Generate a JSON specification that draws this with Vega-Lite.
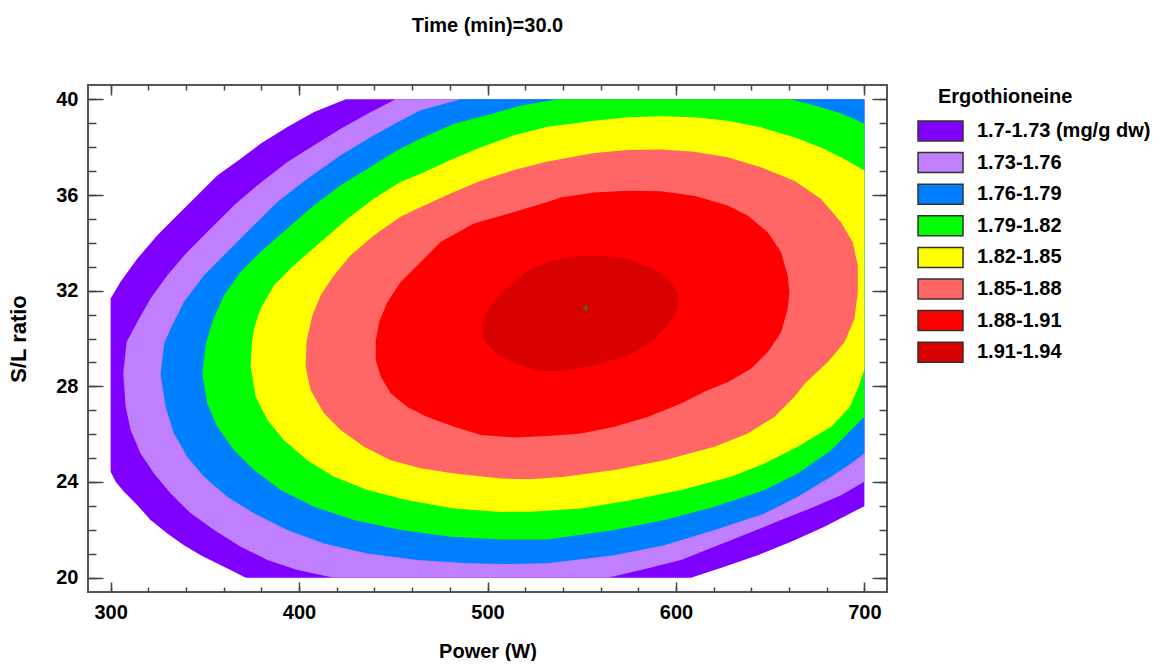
{
  "$schema": "https://vega.github.io/schema/vega-lite/v6.json",
  "width": 799,
  "height": 507,
  "padding": {"left": 7, "top": 16, "right": 0, "bottom": 0},
  "background": "white",
  "title": {"text": "Time (min)=30.0", "fontSize": 20, "fontWeight": "bold", "font": "Liberation Sans", "color": "#000000", "anchor": "middle", "frame": "group", "offset": 48},
  "config": {
    "font": "Liberation Sans",
    "view": {"stroke": "#555555", "strokeWidth": 2},
    "axis": {"grid": false, "domain": false, "labelFont": "Liberation Sans", "labelFontWeight": "bold", "labelFontSize": 20, "labelColor": "#000000", "titleFont": "Liberation Sans", "titleFontSize": 20, "titleFontWeight": "bold", "titleColor": "#000000", "tickColor": "#444444", "tickWidth": 1.5, "labelFlush": false, "labelOverlap": false}
  },
  "datasets": {
    "contours": [
      {"band":"1.7-1.73 (mg/g dw)","i":0,"x":424.8,"y":40},{"band":"1.7-1.73 (mg/g dw)","i":1,"x":700,"y":40},{"band":"1.7-1.73 (mg/g dw)","i":2,"x":700,"y":22.99},{"band":"1.7-1.73 (mg/g dw)","i":3,"x":678.8,"y":22.13},{"band":"1.7-1.73 (mg/g dw)","i":4,"x":661.1,"y":21.50},{"band":"1.7-1.73 (mg/g dw)","i":5,"x":643.4,"y":20.94},{"band":"1.7-1.73 (mg/g dw)","i":6,"x":625.7,"y":20.46},{"band":"1.7-1.73 (mg/g dw)","i":7,"x":608.0,"y":20},{"band":"1.7-1.73 (mg/g dw)","i":8,"x":371.7,"y":20},{"band":"1.7-1.73 (mg/g dw)","i":9,"x":365.5,"y":20.25},{"band":"1.7-1.73 (mg/g dw)","i":10,"x":356.6,"y":20.59},{"band":"1.7-1.73 (mg/g dw)","i":11,"x":347.8,"y":20.94},{"band":"1.7-1.73 (mg/g dw)","i":12,"x":338.9,"y":21.36},{"band":"1.7-1.73 (mg/g dw)","i":13,"x":330.1,"y":21.85},{"band":"1.7-1.73 (mg/g dw)","i":14,"x":321.2,"y":22.41},{"band":"1.7-1.73 (mg/g dw)","i":15,"x":314.2,"y":23.03},{"band":"1.7-1.73 (mg/g dw)","i":16,"x":307.1,"y":23.59},{"band":"1.7-1.73 (mg/g dw)","i":17,"x":302.7,"y":24.01},{"band":"1.7-1.73 (mg/g dw)","i":18,"x":300,"y":24.43},{"band":"1.7-1.73 (mg/g dw)","i":19,"x":300,"y":31.67},{"band":"1.7-1.73 (mg/g dw)","i":20,"x":305.3,"y":32.37},{"band":"1.7-1.73 (mg/g dw)","i":21,"x":314.2,"y":33.34},{"band":"1.7-1.73 (mg/g dw)","i":22,"x":324.8,"y":34.32},{"band":"1.7-1.73 (mg/g dw)","i":23,"x":335.4,"y":35.15},{"band":"1.7-1.73 (mg/g dw)","i":24,"x":347.8,"y":36.13},{"band":"1.7-1.73 (mg/g dw)","i":25,"x":356.6,"y":36.82},{"band":"1.7-1.73 (mg/g dw)","i":26,"x":369.0,"y":37.52},{"band":"1.7-1.73 (mg/g dw)","i":27,"x":379.7,"y":38.15},{"band":"1.7-1.73 (mg/g dw)","i":28,"x":393.8,"y":38.84},{"band":"1.7-1.73 (mg/g dw)","i":29,"x":408.0,"y":39.47},
      {"band":"1.73-1.76","i":0,"x":451.3,"y":40},{"band":"1.73-1.76","i":1,"x":700,"y":40},{"band":"1.73-1.76","i":2,"x":700,"y":24.01},{"band":"1.73-1.76","i":3,"x":687.6,"y":23.45},{"band":"1.73-1.76","i":4,"x":673.4,"y":22.96},{"band":"1.73-1.76","i":5,"x":655.8,"y":22.41},{"band":"1.73-1.76","i":6,"x":638.1,"y":21.85},{"band":"1.73-1.76","i":7,"x":620.4,"y":21.29},{"band":"1.73-1.76","i":8,"x":602.7,"y":20.74},{"band":"1.73-1.76","i":9,"x":581.4,"y":20.32},{"band":"1.73-1.76","i":10,"x":563.7,"y":20},{"band":"1.73-1.76","i":11,"x":418.6,"y":20},{"band":"1.73-1.76","i":12,"x":399.1,"y":20.32},{"band":"1.73-1.76","i":13,"x":383.2,"y":20.74},{"band":"1.73-1.76","i":14,"x":369.0,"y":21.29},{"band":"1.73-1.76","i":15,"x":354.9,"y":21.99},{"band":"1.73-1.76","i":16,"x":342.5,"y":22.69},{"band":"1.73-1.76","i":17,"x":331.9,"y":23.52},{"band":"1.73-1.76","i":18,"x":323.0,"y":24.36},{"band":"1.73-1.76","i":19,"x":315.9,"y":25.19},{"band":"1.73-1.76","i":20,"x":310.6,"y":26.17},{"band":"1.73-1.76","i":21,"x":308.0,"y":27.14},{"band":"1.73-1.76","i":22,"x":306.7,"y":28.54},{"band":"1.73-1.76","i":23,"x":308.5,"y":29.85},{"band":"1.73-1.76","i":24,"x":314.2,"y":30.70},{"band":"1.73-1.76","i":25,"x":321.2,"y":31.67},{"band":"1.73-1.76","i":26,"x":330.1,"y":32.64},{"band":"1.73-1.76","i":27,"x":340.7,"y":33.62},{"band":"1.73-1.76","i":28,"x":353.1,"y":34.60},{"band":"1.73-1.76","i":29,"x":365.5,"y":35.57},{"band":"1.73-1.76","i":30,"x":377.9,"y":36.41},{"band":"1.73-1.76","i":31,"x":393.8,"y":37.38},{"band":"1.73-1.76","i":32,"x":408.0,"y":38.08},{"band":"1.73-1.76","i":33,"x":422.1,"y":38.77},{"band":"1.73-1.76","i":34,"x":436.3,"y":39.40},
      {"band":"1.76-1.79","i":0,"x":485.8,"y":40},{"band":"1.76-1.79","i":1,"x":700,"y":40},{"band":"1.76-1.79","i":2,"x":700,"y":25.19},{"band":"1.76-1.79","i":3,"x":692.9,"y":24.77},{"band":"1.76-1.79","i":4,"x":682.3,"y":24.22},{"band":"1.76-1.79","i":5,"x":664.6,"y":23.38},{"band":"1.76-1.79","i":6,"x":646.9,"y":22.68},{"band":"1.76-1.79","i":7,"x":620.4,"y":21.99},{"band":"1.76-1.79","i":8,"x":593.8,"y":21.36},{"band":"1.76-1.79","i":9,"x":567.3,"y":20.94},{"band":"1.76-1.79","i":10,"x":531.9,"y":20.60},{"band":"1.76-1.79","i":11,"x":507.1,"y":20.57},{"band":"1.76-1.79","i":12,"x":489.4,"y":20.60},{"band":"1.76-1.79","i":13,"x":462.8,"y":20.74},{"band":"1.76-1.79","i":14,"x":436.3,"y":21.01},{"band":"1.76-1.79","i":15,"x":413.3,"y":21.43},{"band":"1.76-1.79","i":16,"x":393.8,"y":21.99},{"band":"1.76-1.79","i":17,"x":376.1,"y":22.69},{"band":"1.76-1.79","i":18,"x":361.9,"y":23.38},{"band":"1.76-1.79","i":19,"x":349.6,"y":24.22},{"band":"1.76-1.79","i":20,"x":340.7,"y":25.05},{"band":"1.76-1.79","i":21,"x":333.6,"y":26.03},{"band":"1.76-1.79","i":22,"x":329.2,"y":27.14},{"band":"1.76-1.79","i":23,"x":326.5,"y":28.54},{"band":"1.76-1.79","i":24,"x":328.5,"y":29.80},{"band":"1.76-1.79","i":25,"x":331.9,"y":30.42},{"band":"1.76-1.79","i":26,"x":338.9,"y":31.53},{"band":"1.76-1.79","i":27,"x":349.6,"y":32.64},{"band":"1.76-1.79","i":28,"x":361.9,"y":33.62},{"band":"1.76-1.79","i":29,"x":374.3,"y":34.60},{"band":"1.76-1.79","i":30,"x":388.5,"y":35.71},{"band":"1.76-1.79","i":31,"x":404.4,"y":36.68},{"band":"1.76-1.79","i":32,"x":422.1,"y":37.66},{"band":"1.76-1.79","i":33,"x":439.8,"y":38.50},{"band":"1.76-1.79","i":34,"x":454.0,"y":39.12},{"band":"1.76-1.79","i":35,"x":464.6,"y":39.54},
      {"band":"1.79-1.82","i":0,"x":537.2,"y":40},{"band":"1.79-1.82","i":1,"x":661.1,"y":40},{"band":"1.79-1.82","i":2,"x":673.5,"y":39.74},{"band":"1.79-1.82","i":3,"x":685.8,"y":39.46},{"band":"1.79-1.82","i":4,"x":694.7,"y":39.18},{"band":"1.79-1.82","i":5,"x":700,"y":38.97},{"band":"1.79-1.82","i":6,"x":700,"y":26.73},{"band":"1.79-1.82","i":7,"x":692.9,"y":26.17},{"band":"1.79-1.82","i":8,"x":682.3,"y":25.33},{"band":"1.79-1.82","i":9,"x":664.6,"y":24.36},{"band":"1.79-1.82","i":10,"x":646.9,"y":23.66},{"band":"1.79-1.82","i":11,"x":620.4,"y":22.96},{"band":"1.79-1.82","i":12,"x":593.8,"y":22.41},{"band":"1.79-1.82","i":13,"x":567.3,"y":21.99},{"band":"1.79-1.82","i":14,"x":531.9,"y":21.60},{"band":"1.79-1.82","i":15,"x":507.1,"y":21.60},{"band":"1.79-1.82","i":16,"x":480.5,"y":21.71},{"band":"1.79-1.82","i":17,"x":454.0,"y":21.99},{"band":"1.79-1.82","i":18,"x":429.2,"y":22.41},{"band":"1.79-1.82","i":19,"x":408.0,"y":22.96},{"band":"1.79-1.82","i":20,"x":390.3,"y":23.66},{"band":"1.79-1.82","i":21,"x":376.1,"y":24.50},{"band":"1.79-1.82","i":22,"x":365.5,"y":25.33},{"band":"1.79-1.82","i":23,"x":356.6,"y":26.31},{"band":"1.79-1.82","i":24,"x":351.3,"y":27.28},{"band":"1.79-1.82","i":25,"x":348.7,"y":28.54},{"band":"1.79-1.82","i":26,"x":350.6,"y":29.80},{"band":"1.79-1.82","i":27,"x":354.0,"y":30.70},{"band":"1.79-1.82","i":28,"x":360.2,"y":31.81},{"band":"1.79-1.82","i":29,"x":369.0,"y":32.78},{"band":"1.79-1.82","i":30,"x":379.6,"y":33.62},{"band":"1.79-1.82","i":31,"x":393.8,"y":34.60},{"band":"1.79-1.82","i":32,"x":408.0,"y":35.57},{"band":"1.79-1.82","i":33,"x":422.1,"y":36.41},{"band":"1.79-1.82","i":34,"x":436.3,"y":37.10},{"band":"1.79-1.82","i":35,"x":450.5,"y":37.80},{"band":"1.79-1.82","i":36,"x":464.6,"y":38.36},{"band":"1.79-1.82","i":37,"x":482.3,"y":38.98},{"band":"1.79-1.82","i":38,"x":500.0,"y":39.35},{"band":"1.79-1.82","i":39,"x":517.0,"y":39.72},
      {"band":"1.82-1.85","i":0,"x":375.0,"y":29.80},{"band":"1.82-1.85","i":1,"x":376.1,"y":30.42},{"band":"1.82-1.85","i":2,"x":379.6,"y":31.25},{"band":"1.82-1.85","i":3,"x":386.7,"y":32.23},{"band":"1.82-1.85","i":4,"x":397.3,"y":33.06},{"band":"1.82-1.85","i":5,"x":411.5,"y":34.04},{"band":"1.82-1.85","i":6,"x":425.7,"y":35.01},{"band":"1.82-1.85","i":7,"x":439.8,"y":35.85},{"band":"1.82-1.85","i":8,"x":454.0,"y":36.55},{"band":"1.82-1.85","i":9,"x":464.6,"y":36.89},{"band":"1.82-1.85","i":10,"x":480.0,"y":37.45},{"band":"1.82-1.85","i":11,"x":496.5,"y":38.00},{"band":"1.82-1.85","i":12,"x":514.1,"y":38.50},{"band":"1.82-1.85","i":13,"x":531.9,"y":38.85},{"band":"1.82-1.85","i":14,"x":556.6,"y":39.11},{"band":"1.82-1.85","i":15,"x":574.3,"y":39.25},{"band":"1.82-1.85","i":16,"x":592.0,"y":39.29},{"band":"1.82-1.85","i":17,"x":609.7,"y":39.25},{"band":"1.82-1.85","i":18,"x":627.4,"y":39.11},{"band":"1.82-1.85","i":19,"x":645.1,"y":38.83},{"band":"1.82-1.85","i":20,"x":662.8,"y":38.41},{"band":"1.82-1.85","i":21,"x":677.0,"y":37.99},{"band":"1.82-1.85","i":22,"x":689.4,"y":37.51},{"band":"1.82-1.85","i":23,"x":700,"y":37.02},{"band":"1.82-1.85","i":24,"x":700,"y":28.70},{"band":"1.82-1.85","i":25,"x":696.5,"y":27.90},{"band":"1.82-1.85","i":26,"x":692.0,"y":27.10},{"band":"1.82-1.85","i":27,"x":682.3,"y":26.31},{"band":"1.82-1.85","i":28,"x":664.6,"y":25.47},{"band":"1.82-1.85","i":29,"x":646.9,"y":24.77},{"band":"1.82-1.85","i":30,"x":629.2,"y":24.22},{"band":"1.82-1.85","i":31,"x":602.7,"y":23.66},{"band":"1.82-1.85","i":32,"x":576.1,"y":23.24},{"band":"1.82-1.85","i":33,"x":549.6,"y":22.89},{"band":"1.82-1.85","i":34,"x":523.0,"y":22.76},{"band":"1.82-1.85","i":35,"x":507.1,"y":22.75},{"band":"1.82-1.85","i":36,"x":482.3,"y":22.89},{"band":"1.82-1.85","i":37,"x":457.5,"y":23.24},{"band":"1.82-1.85","i":38,"x":436.3,"y":23.66},{"band":"1.82-1.85","i":39,"x":418.6,"y":24.22},{"band":"1.82-1.85","i":40,"x":404.4,"y":24.91},{"band":"1.82-1.85","i":41,"x":392.0,"y":25.75},{"band":"1.82-1.85","i":42,"x":383.2,"y":26.59},{"band":"1.82-1.85","i":43,"x":377.0,"y":27.56},{"band":"1.82-1.85","i":44,"x":374.3,"y":28.81},
      {"band":"1.85-1.88","i":0,"x":403.5,"y":28.81},{"band":"1.85-1.88","i":1,"x":404.0,"y":29.90},{"band":"1.85-1.88","i":2,"x":407.1,"y":30.97},{"band":"1.85-1.88","i":3,"x":411.5,"y":31.81},{"band":"1.85-1.88","i":4,"x":418.6,"y":32.65},{"band":"1.85-1.88","i":5,"x":427.4,"y":33.48},{"band":"1.85-1.88","i":6,"x":439.8,"y":34.32},{"band":"1.85-1.88","i":7,"x":454.0,"y":35.10},{"band":"1.85-1.88","i":8,"x":464.6,"y":35.50},{"band":"1.85-1.88","i":9,"x":480.0,"y":36.05},{"band":"1.85-1.88","i":10,"x":496.5,"y":36.60},{"band":"1.85-1.88","i":11,"x":514.1,"y":37.05},{"band":"1.85-1.88","i":12,"x":531.9,"y":37.40},{"band":"1.85-1.88","i":13,"x":556.6,"y":37.76},{"band":"1.85-1.88","i":14,"x":574.3,"y":37.88},{"band":"1.85-1.88","i":15,"x":592.0,"y":37.90},{"band":"1.85-1.88","i":16,"x":609.7,"y":37.81},{"band":"1.85-1.88","i":17,"x":627.4,"y":37.58},{"band":"1.85-1.88","i":18,"x":645.1,"y":37.16},{"band":"1.85-1.88","i":19,"x":662.8,"y":36.60},{"band":"1.85-1.88","i":20,"x":677.0,"y":35.83},{"band":"1.85-1.88","i":21,"x":687.6,"y":34.86},{"band":"1.85-1.88","i":22,"x":693.8,"y":34.02},{"band":"1.85-1.88","i":23,"x":696.5,"y":33.05},{"band":"1.85-1.88","i":24,"x":696.5,"y":31.93},{"band":"1.85-1.88","i":25,"x":694.7,"y":30.82},{"band":"1.85-1.88","i":26,"x":689.4,"y":29.84},{"band":"1.85-1.88","i":27,"x":680.5,"y":29.01},{"band":"1.85-1.88","i":28,"x":669.0,"y":28.17},{"band":"1.85-1.88","i":29,"x":662.8,"y":27.56},{"band":"1.85-1.88","i":30,"x":652.2,"y":26.72},{"band":"1.85-1.88","i":31,"x":638.1,"y":26.03},{"band":"1.85-1.88","i":32,"x":620.4,"y":25.47},{"band":"1.85-1.88","i":33,"x":593.8,"y":24.91},{"band":"1.85-1.88","i":34,"x":567.3,"y":24.50},{"band":"1.85-1.88","i":35,"x":540.7,"y":24.22},{"band":"1.85-1.88","i":36,"x":523.0,"y":24.11},{"band":"1.85-1.88","i":37,"x":507.1,"y":24.15},{"band":"1.85-1.88","i":38,"x":482.3,"y":24.36},{"band":"1.85-1.88","i":39,"x":464.6,"y":24.57},{"band":"1.85-1.88","i":40,"x":448.7,"y":24.91},{"band":"1.85-1.88","i":41,"x":434.5,"y":25.47},{"band":"1.85-1.88","i":42,"x":422.1,"y":26.17},{"band":"1.85-1.88","i":43,"x":413.3,"y":26.86},{"band":"1.85-1.88","i":44,"x":406.2,"y":27.84},
      {"band":"1.88-1.91","i":0,"x":440.7,"y":29.09},{"band":"1.88-1.91","i":1,"x":440.7,"y":29.90},{"band":"1.88-1.91","i":2,"x":442.5,"y":30.70},{"band":"1.88-1.91","i":3,"x":446.9,"y":31.53},{"band":"1.88-1.91","i":4,"x":454.0,"y":32.37},{"band":"1.88-1.91","i":5,"x":464.6,"y":33.20},{"band":"1.88-1.91","i":6,"x":475.2,"y":34.05},{"band":"1.88-1.91","i":7,"x":492.9,"y":34.81},{"band":"1.88-1.91","i":8,"x":514.1,"y":35.29},{"band":"1.88-1.91","i":9,"x":531.9,"y":35.71},{"band":"1.88-1.91","i":10,"x":538.9,"y":35.90},{"band":"1.88-1.91","i":11,"x":556.6,"y":36.11},{"band":"1.88-1.91","i":12,"x":574.3,"y":36.18},{"band":"1.88-1.91","i":13,"x":592.0,"y":36.16},{"band":"1.88-1.91","i":14,"x":609.7,"y":35.97},{"band":"1.88-1.91","i":15,"x":627.4,"y":35.56},{"band":"1.88-1.91","i":16,"x":638.1,"y":35.14},{"band":"1.88-1.91","i":17,"x":648.7,"y":34.44},{"band":"1.88-1.91","i":18,"x":655.8,"y":33.61},{"band":"1.88-1.91","i":19,"x":659.3,"y":32.63},{"band":"1.88-1.91","i":20,"x":660.2,"y":31.93},{"band":"1.88-1.91","i":21,"x":659.3,"y":31.24},{"band":"1.88-1.91","i":22,"x":655.8,"y":30.26},{"band":"1.88-1.91","i":23,"x":648.7,"y":29.43},{"band":"1.88-1.91","i":24,"x":639.8,"y":28.73},{"band":"1.88-1.91","i":25,"x":627.4,"y":28.17},{"band":"1.88-1.91","i":26,"x":616.8,"y":27.84},{"band":"1.88-1.91","i":27,"x":602.7,"y":27.28},{"band":"1.88-1.91","i":28,"x":585.0,"y":26.72},{"band":"1.88-1.91","i":29,"x":567.3,"y":26.31},{"band":"1.88-1.91","i":30,"x":549.6,"y":26.03},{"band":"1.88-1.91","i":31,"x":531.9,"y":25.92},{"band":"1.88-1.91","i":32,"x":514.2,"y":25.86},{"band":"1.88-1.91","i":33,"x":496.5,"y":25.96},{"band":"1.88-1.91","i":34,"x":482.3,"y":26.31},{"band":"1.88-1.91","i":35,"x":468.1,"y":26.72},{"band":"1.88-1.91","i":36,"x":457.5,"y":27.14},{"band":"1.88-1.91","i":37,"x":448.7,"y":27.70},{"band":"1.88-1.91","i":38,"x":443.4,"y":28.40},
      {"band":"1.91-1.94","i":0,"x":496.8,"y":30.40},{"band":"1.91-1.94","i":1,"x":500.5,"y":31.30},{"band":"1.91-1.94","i":2,"x":507.1,"y":31.89},{"band":"1.91-1.94","i":3,"x":514.1,"y":32.37},{"band":"1.91-1.94","i":4,"x":522.0,"y":32.85},{"band":"1.91-1.94","i":5,"x":531.9,"y":33.20},{"band":"1.91-1.94","i":6,"x":545.0,"y":33.42},{"band":"1.91-1.94","i":7,"x":556.6,"y":33.47},{"band":"1.91-1.94","i":8,"x":574.3,"y":33.33},{"band":"1.91-1.94","i":9,"x":588.5,"y":32.91},{"band":"1.91-1.94","i":10,"x":597.3,"y":32.35},{"band":"1.91-1.94","i":11,"x":601.8,"y":31.79},{"band":"1.91-1.94","i":12,"x":600.9,"y":31.24},{"band":"1.91-1.94","i":13,"x":595.6,"y":30.54},{"band":"1.91-1.94","i":14,"x":586.7,"y":29.84},{"band":"1.91-1.94","i":15,"x":574.3,"y":29.29},{"band":"1.91-1.94","i":16,"x":556.6,"y":28.87},{"band":"1.91-1.94","i":17,"x":540.0,"y":28.63},{"band":"1.91-1.94","i":18,"x":527.0,"y":28.65},{"band":"1.91-1.94","i":19,"x":514.1,"y":28.96},{"band":"1.91-1.94","i":20,"x":504.0,"y":29.40},{"band":"1.91-1.94","i":21,"x":498.5,"y":29.90}
    ],
    "optimum": [{"x": 552.2, "y": 31.27}]
  },
  "layer": [
    {
      "data": {"name": "contours"},
      "mark": {"type": "line", "interpolate": "linear", "strokeOpacity": 0, "strokeWidth": 0},
      "encoding": {
        "x": {"field": "x", "type": "quantitative", "scale": {"domain": [288, 712], "nice": false, "zero": false},
              "axis": {"orient": "bottom", "values": [300, 400, 500, 600, 700], "ticks": false, "labelPadding": 10, "title": "Power (W)", "titlePadding": 19}},
        "y": {"field": "y", "type": "quantitative", "scale": {"domain": [19.4, 40.6], "nice": false, "zero": false},
              "axis": {"orient": "left", "values": [20, 24, 28, 32, 36, 40], "ticks": false, "labelPadding": 10, "title": "S/L ratio", "titleFontSize": 22, "titlePadding": 25}},
        "fill": {"field": "band", "type": "nominal",
                 "scale": {"domain": ["1.7-1.73 (mg/g dw)", "1.73-1.76", "1.76-1.79", "1.79-1.82", "1.82-1.85", "1.85-1.88", "1.88-1.91", "1.91-1.94"],
                           "range": ["#7F00FF", "#BF7FFF", "#007FFF", "#00FF00", "#FFFF00", "#FF6666", "#FF0000", "#D90000"]},
                 "legend": {"orient": "none", "legendX": 829, "legendY": 2, "title": "Ergothioneine", "titleFont": "Liberation Sans", "titleFontSize": 20, "titleFontWeight": "bold", "titleColor": "#000000", "titlePadding": 13,
                            "labelFont": "Liberation Sans", "labelFontSize": 20, "labelFontWeight": "bold", "labelColor": "#000000", "labelOffset": 38, "labelLimit": 400,
                            "symbolType": "M-1,-1L3.5,-1L3.5,1L-1,1Z", "symbolSize": 400, "symbolStrokeColor": "#333333", "symbolStrokeWidth": 1.5, "rowPadding": 5.6, "padding": 0,
                            "encoding": {"title": {"dx": {"value": 21}}}}},
        "order": {"field": "i", "type": "quantitative"}
      }
    },
    {
      "data": {"name": "optimum"},
      "mark": {"type": "point", "shape": "M-1,0L1,0M0,-1L0,1", "size": 36, "filled": false, "stroke": "#2E7D32", "strokeWidth": 1.2, "opacity": 1},
      "encoding": {
        "x": {"field": "x", "type": "quantitative", "axis": {"orient": "bottom", "values": [300, 400, 500, 600, 700], "labels": false, "title": null, "tickSize": -10}},
        "y": {"field": "y", "type": "quantitative", "axis": {"orient": "left", "values": [20, 24, 28, 32, 36, 40], "labels": false, "title": null, "tickSize": -15}}
      }
    },
    {
      "data": {"name": "optimum"},
      "mark": {"type": "point", "opacity": 0},
      "encoding": {
        "x": {"field": "x", "type": "quantitative", "axis": {"orient": "bottom", "values": [300, 320, 340, 360, 380, 400, 420, 440, 460, 480, 500, 520, 540, 560, 580, 600, 620, 640, 660, 680, 700], "labels": false, "title": null, "tickSize": -5}},
        "y": {"field": "y", "type": "quantitative", "axis": {"orient": "left", "values": [20, 21, 22, 23, 24, 25, 26, 27, 28, 29, 30, 31, 32, 33, 34, 35, 36, 37, 38, 39, 40], "labels": false, "title": null, "tickSize": -8}}
      }
    },
    {
      "data": {"name": "optimum"},
      "mark": {"type": "point", "opacity": 0},
      "encoding": {
        "x": {"field": "x", "type": "quantitative", "axis": {"orient": "top", "values": [300, 400, 500, 600, 700], "labels": false, "title": null, "tickSize": -10}},
        "y": {"field": "y", "type": "quantitative", "axis": {"orient": "right", "values": [20, 24, 28, 32, 36, 40], "labels": false, "title": null, "tickSize": -15}}
      }
    },
    {
      "data": {"name": "optimum"},
      "mark": {"type": "point", "opacity": 0},
      "encoding": {
        "x": {"field": "x", "type": "quantitative", "axis": {"orient": "top", "values": [300, 320, 340, 360, 380, 400, 420, 440, 460, 480, 500, 520, 540, 560, 580, 600, 620, 640, 660, 680, 700], "labels": false, "title": null, "tickSize": -5}},
        "y": {"field": "y", "type": "quantitative", "axis": {"orient": "right", "values": [20, 21, 22, 23, 24, 25, 26, 27, 28, 29, 30, 31, 32, 33, 34, 35, 36, 37, 38, 39, 40], "labels": false, "title": null, "tickSize": -8}}
      }
    }
  ],
  "resolve": {"axis": {"x": "independent", "y": "independent"}}
}
